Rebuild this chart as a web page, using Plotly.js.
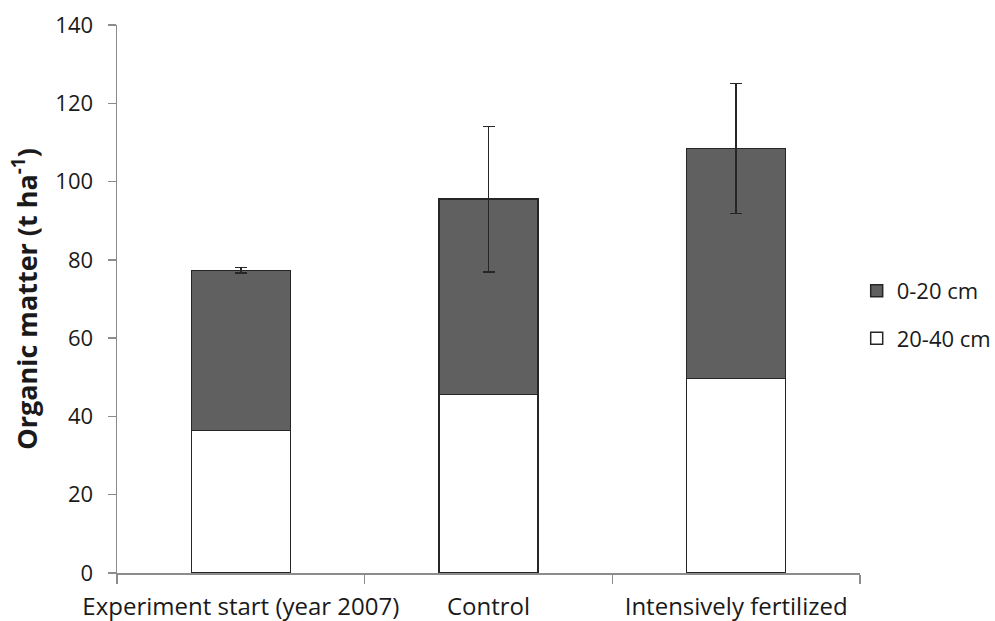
<!DOCTYPE html>
<html>
<head>
<meta charset="utf-8">
<script src="https://cdn.plot.ly/plotly-3.0.1.min.js"></script>
<style>html,body{margin:0;padding:0;background:#fff;}#chart{width:995px;height:621px;}</style>
</head>
<body>
<div id="chart"></div>
<script>
const categories = ["Experiment start (year 2007)", "Control", "Intensively fertilized"];
const deep = [36.4, 45.6, 49.7];        // 20-40 cm
const topTotal = [77.3, 95.5, 108.5];   // stacked total
const topSoil = topTotal.map((t, i) => +(t - deep[i]).toFixed(1)); // 0-20 cm
const topErr = [0.7, 18.6, 16.6];
const yTicks = [0, 20, 40, 60, 80, 100, 120, 140];

const fam = "'Open Sans', 'Noto Sans', sans-serif";
const txt = "#1a1a1a";
const axisGrey = "#8c8c8c";

const traces = [
  {
    type: "bar", name: "20-40 cm", x: categories, y: deep, legendgroup: "b", legendrank: 2,
    marker: {color: "#ffffff", line: {color: "#262626", width: 1.5}},
    width: 0.4, hoverinfo: "y"
  },
  {
    type: "bar", name: "0-20 cm", x: categories, y: topSoil, legendgroup: "a", legendrank: 1,
    marker: {color: "#606060", line: {color: "#262626", width: 1.5}},
    width: 0.4,
    error_y: {type: "data", array: topErr, visible: true, color: "#262626", thickness: 1.5, width: 6},
    hoverinfo: "y"
  }
];

const layout = {
  width: 995, height: 621,
  margin: {l: 117, r: 135, t: 25, b: 48, autoexpand: false},
  barmode: "stack",
  paper_bgcolor: "#fff", plot_bgcolor: "#fff",
  font: {family: fam, size: 20, color: txt},
  showlegend: true,
  legend: {xref: "container", yref: "container", x: 0.861, y: 0.493, xanchor: "left", yanchor: "middle",
           traceorder: "grouped", font: {family: fam, size: 22, color: txt}, tracegroupgap: 16, itemwidth: 30},
  xaxis: {
    type: "category", range: [-0.5, 2.5], automargin: false, tickangle: 0,
    showline: true, linecolor: axisGrey, linewidth: 1.5,
    ticks: "outside", tickson: "boundaries", ticklen: 9, tickcolor: axisGrey, tickwidth: 1.5,
    showgrid: false, zeroline: false,
    tickfont: {family: fam, size: 24, color: txt},
    ticklabelstandoff: 12
  },
  yaxis: {
    range: [0, 140], tickvals: yTicks, ticktext: yTicks.map(String), automargin: false,
    showline: true, linecolor: axisGrey, linewidth: 1.5,
    ticks: "outside", ticklen: 8, tickcolor: axisGrey, tickwidth: 1.5,
    showgrid: false, zeroline: false,
    tickfont: {family: fam, size: 22, color: txt},
    ticklabelstandoff: 10,
    title: {text: "Organic matter (t ha<sup>-1</sup>)", font: {family: fam, size: 27, color: txt, weight: "bold"}, standoff: 10}
  }
};

Plotly.newPlot("chart", traces, layout, {displayModeBar: false, staticPlot: true});
</script>
</body>
</html>
